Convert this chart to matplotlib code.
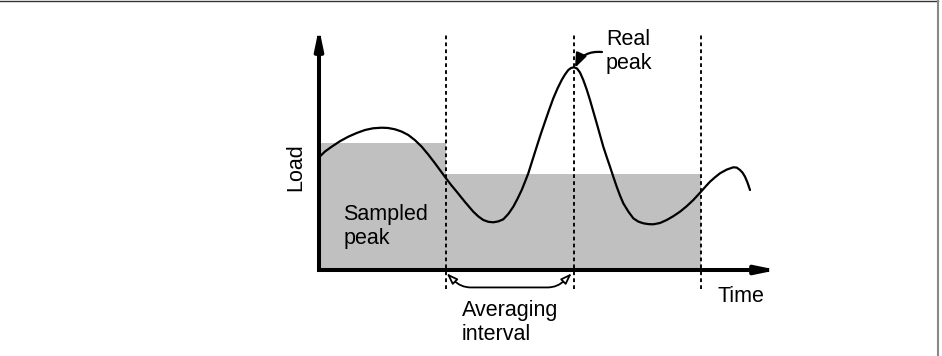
import matplotlib
matplotlib.use("Agg")
import matplotlib.pyplot as plt
from matplotlib.patches import FancyArrowPatch, ArrowStyle
from matplotlib.lines import Line2D

plt.rcParams['font.family'] = ['Liberation Sans', 'DejaVu Sans']

# ---------------- data (time and load in arbitrary units, origin at the axes corner) ----------------
curve_time = [0, 6, 12.7, 21, 29.3, 37.7, 46, 54, 62.7, 69,
              76, 82.7, 89.3, 96, 102.7, 109.3, 116, 121.5, 127, 132.3,
              137.7, 146, 154.3, 159.3, 164.3, 169.3, 174.3, 179.3, 184.3, 189.3,
              194.3, 198.5, 202.7, 206, 209.3, 213.5, 217.7, 221.8, 226, 230.2,
              234.3, 238.5, 242.7, 246, 249.3, 252, 255, 258, 261, 264.3,
              267.7, 271, 274.3, 277.7, 281, 284.3, 287.7, 291, 294.3, 297.7,
              301, 304.3, 309.3, 314.3, 319.3, 324.3, 329.3, 334.3, 341, 347.7,
              354.3, 361, 367.7, 374.3, 378, 382, 386.5, 391, 396, 401,
              407.7, 414.3, 417.7, 421, 423.5, 426, 428.5, 431]
curve_load = [112.7, 118.5, 123.3, 128.8, 133.3, 137, 140, 141.7, 142.3, 142,
              140.7, 138.4, 135, 129.8, 123.3, 115.4, 106.7, 99.2, 91.7, 84.8,
              78.3, 68, 58.3, 53.6, 50, 48.2, 47.7, 48.6, 50.7, 56,
              63.3, 71.2, 80, 88.2, 96.7, 110, 123.3, 136, 148.3, 160.4,
              171.7, 181.5, 190, 195.5, 200, 202, 202.7, 201.5, 197.5, 190,
              180.5, 170, 158.5, 146.7, 135, 123.3, 113, 103.3, 93.3, 83.3,
              74.5, 66.7, 58.5, 51.7, 48.4, 46.7, 45.9, 45.7, 47, 50,
              53.8, 58.3, 63.8, 70, 74, 78.3, 83.4, 88.3, 92.7, 96.7,
              100.4, 102.7, 102.4, 100, 97.4, 93.3, 87.4, 80]

interval_starts = [0, 127, 255]
interval_widths = [127, 128, 127]
sampled_peak = [127, 96, 96]
interval_bounds = [127, 255, 382]

real_peak_time = 255
real_peak_load = 202.7

label_load = "Load"
label_time = "Time"
label_sampled = "Sampled\npeak"
label_real = "Real\npeak"
label_avg = "Averaging\ninterval"

# ---------------- figure ----------------
fig = plt.figure(figsize=(9.42, 3.56), dpi=100)
ax = fig.add_axes([0, 0, 1, 1])
ax.set_xlim(-319, 623)
ax.set_ylim(-86, 270)
ax.axis('off')

gray = '#c0c0c0'
ax.bar(interval_starts, sampled_peak, width=interval_widths, align='edge', color=gray,
       linewidth=0, zorder=1)

ax.vlines(interval_bounds, -19, 237, colors='black', linestyles=(0, (2.0, 1.7)),
          linewidth=1.35, zorder=2)

ax.plot(curve_time, curve_load, color='black', lw=1.6, zorder=3,
        solid_joinstyle='round', solid_capstyle='round')

# axes with arrows
axis_time_max = 458
axis_load_max = 242
ax_style = ArrowStyle('-|>', head_length=11.5, head_width=2.4)
for tip in [(0, axis_load_max), (axis_time_max, 0)]:
    ax.add_patch(FancyArrowPatch((0, 0), tip, arrowstyle=ax_style, lw=2.9,
                                 color='black', shrinkA=0, shrinkB=0, mutation_scale=1,
                                 joinstyle='round', capstyle='projecting', zorder=4))

# real peak arrow
ax.add_patch(FancyArrowPatch((283, 218), (real_peak_time + 1, real_peak_load - 0.5),
                             connectionstyle='arc3,rad=0.35',
                             arrowstyle=ArrowStyle('-|>', head_length=8.5, head_width=3.3),
                             lw=1.6, color='black', shrinkA=0, shrinkB=0,
                             mutation_scale=1, zorder=5))

# averaging interval arrow
ax.add_patch(FancyArrowPatch((interval_bounds[0] + 0.7, -3.3), (real_peak_time - 2.3, -3.3),
                             connectionstyle='arc,angleA=-45,angleB=-135,armA=20,armB=20,rad=10',
                             arrowstyle=ArrowStyle('<|-|>', head_length=6.5, head_width=2.3),
                             lw=1.3, edgecolor='black', facecolor='white',
                             shrinkA=0, shrinkB=0, mutation_scale=1, zorder=5))

fs = 15.5
ax.text(-23, 103, label_load, rotation=90, ha='center', va='center', fontsize=fs)
ax.text(398.3, -31.7, label_time, ha='left', va='baseline', fontsize=fs)
ax.text(24.3, 26, label_sampled, ha='left', va='baseline', fontsize=fs, linespacing=1.2)
ax.text(287, 200.7, label_real, ha='left', va='baseline', fontsize=fs, linespacing=1.2)
ax.text(142.7, -70, label_avg, ha='left', va='baseline', fontsize=fs, linespacing=1.2)

# thin frame lines (top and right)
fig.add_artist(Line2D([0, 938 / 942], [1 - 1.3 / 356, 1 - 1.3 / 356], color='#333333',
                      lw=1.0, transform=fig.transFigure))
fig.add_artist(Line2D([938 / 942, 938 / 942], [0, 1 - 1.3 / 356], color='#888888',
                      lw=1.5, transform=fig.transFigure))

fig.savefig('out.png', dpi=100)
